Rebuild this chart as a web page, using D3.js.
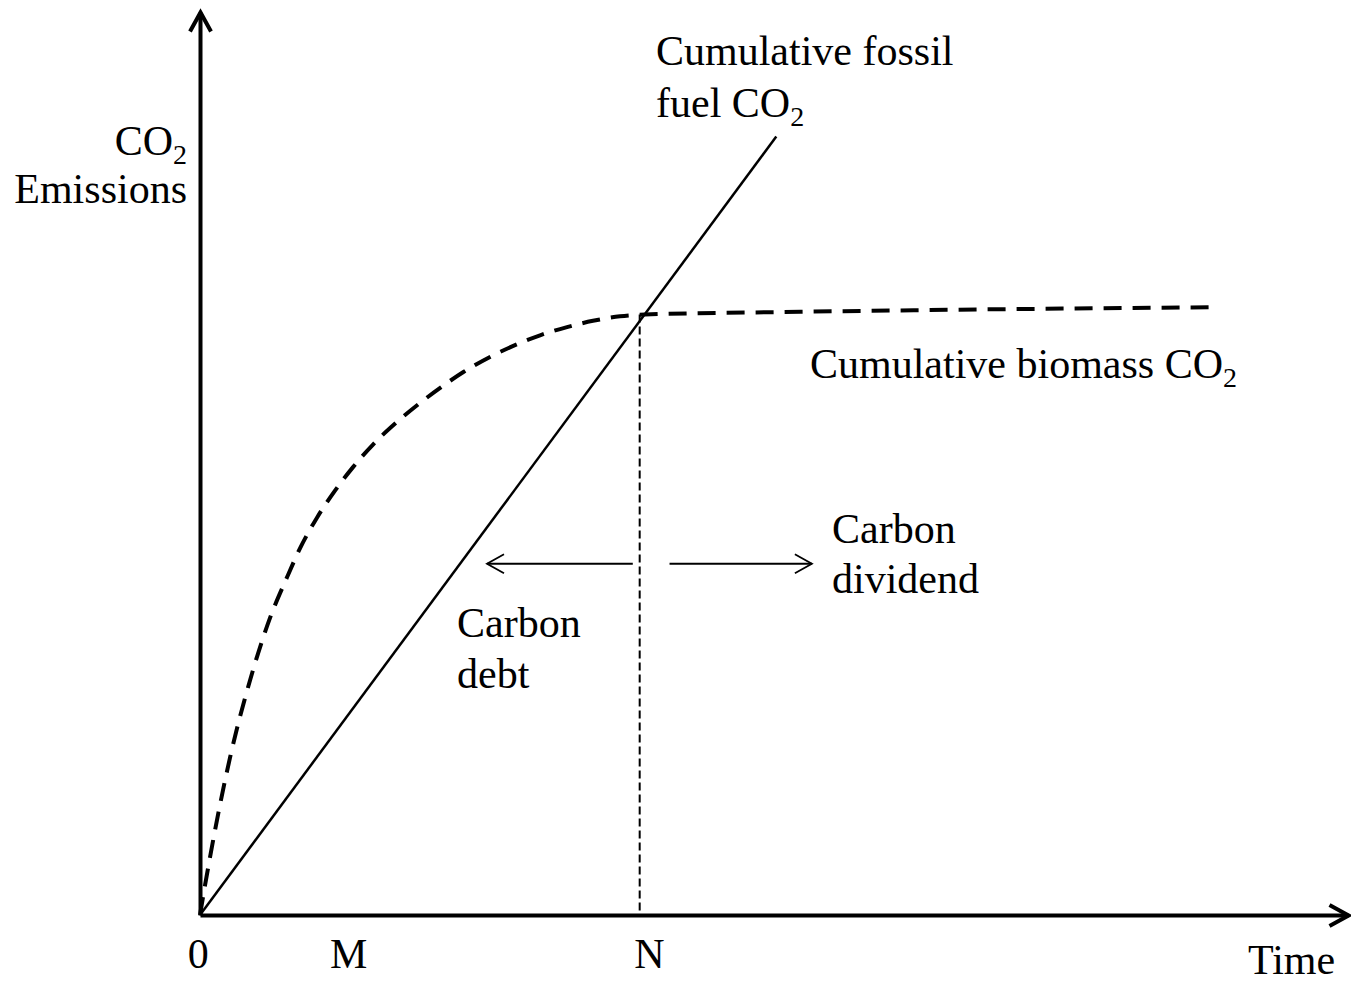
<!DOCTYPE html>
<html>
<head>
<meta charset="utf-8">
<script src="https://cdn.jsdelivr.net/npm/d3@7"></script>
<style>
  body { margin: 0; background: #fff; }
  text { font-family: "Liberation Serif", "Times New Roman", serif; fill: #000; }
</style>
</head>
<body>
<div id="chart"></div>
<script>
// cumulative fossil fuel CO2 (straight line)
var fossilTime = [0, 50.2];
var fossilCO2 = [0, 86.2];

// cumulative biomass CO2 (dashed curve)
var biomassTime = [0, 0.44, 1.31, 2.61, 4.36, 6.10, 7.58, 8.71, 10.19, 11.76, 13.33, 15.07, 17.16, 19.16, 21.17, 22.91, 25.26, 27.61, 29.62, 31.97, 34.23, 36.59, 38.76, 52.3, 88.0];
var biomassCO2  = [0, 3.3, 9.4, 17.4, 26.0, 32.9, 37.4, 40.6, 44.0, 47.0, 49.6, 52.1, 54.6, 56.7, 58.6, 60.1, 61.8, 63.2, 64.2, 65.1, 65.8, 66.3, 66.5, 66.8, 67.3];

// x axis tick labels
var tickLabels = ["0", "M", "N"];
var tickTimes = [-0.2, 12.9, 39.1];

// payback point N and the debt / dividend arrows
var paybackTime = 38.3;
var paybackCO2 = 66.5;
var arrowLevel = 38.9;
var debtArrow = [37.7, 25.0];
var dividendArrow = [40.9, 53.3];

var width = 1351, height = 985;

var svg = d3.select("#chart").append("svg")
    .attr("width", width).attr("height", height);

var x = d3.scaleLinear().domain([0, 100]).range([200, 1348]);
var y = d3.scaleLinear().domain([0, 100]).range([915, 12]);

var defs = svg.append("defs");
function chevron(id, len, half, sw) {
    defs.append("marker")
        .attr("id", id)
        .attr("markerUnits", "userSpaceOnUse")
        .attr("viewBox", (-len - 5) + " " + (-half - 5) + " " + (len + 10) + " " + (2 * half + 10))
        .attr("markerWidth", len + 10).attr("markerHeight", 2 * half + 10)
        .attr("refX", 0).attr("refY", 0)
        .attr("orient", "auto")
        .append("path")
        .attr("d", "M" + (-len) + "," + (-half) + "L0,0L" + (-len) + "," + half)
        .attr("fill", "none").attr("stroke", "#000")
        .attr("stroke-width", sw);
}
chevron("axisHead", 19, 10.5, 4);
chevron("smallHead", 17, 9.5, 1.8);

// axes
var xAxis = svg.append("g").attr("transform", "translate(0," + y(0) + ")")
    .call(d3.axisBottom(x).tickValues(tickTimes)
        .tickFormat(function (d, i) { return tickLabels[i]; })
        .tickSize(0).tickSizeOuter(0).tickPadding(23));
xAxis.select(".domain").attr("stroke-width", 4).attr("marker-end", "url(#axisHead)");
xAxis.selectAll("text").attr("font-size", 42).attr("fill", "#000")
    .style("font-family", '"Liberation Serif", "Times New Roman", serif');

var yAxis = svg.append("g").attr("transform", "translate(" + x(0) + ",0)")
    .call(d3.axisLeft(y).tickValues([]).tickSizeOuter(0));
yAxis.select(".domain").attr("stroke-width", 4).attr("marker-end", "url(#axisHead)");

// lines
var line = d3.line()
    .x(function (d) { return x(d[0]); })
    .y(function (d) { return y(d[1]); });

svg.append("path")
    .datum(d3.zip(fossilTime, fossilCO2))
    .attr("d", line)
    .attr("fill", "none").attr("stroke", "#000").attr("stroke-width", 2.5);

svg.append("path")
    .datum(d3.zip(biomassTime, biomassCO2))
    .attr("d", line.curve(d3.curveMonotoneX))
    .attr("fill", "none").attr("stroke", "#000").attr("stroke-width", 4)
    .attr("stroke-dasharray", "18,11");

svg.append("line")
    .attr("x1", x(paybackTime)).attr("x2", x(paybackTime))
    .attr("y1", y(paybackCO2)).attr("y2", y(0))
    .attr("stroke", "#000").attr("stroke-width", 2)
    .attr("stroke-dasharray", "8,4");

[debtArrow, dividendArrow].forEach(function (a) {
    svg.append("line")
        .attr("x1", x(a[0])).attr("x2", x(a[1]))
        .attr("y1", y(arrowLevel)).attr("y2", y(arrowLevel))
        .attr("stroke", "#000").attr("stroke-width", 1.8)
        .attr("marker-end", "url(#smallHead)");
});

// labels, a part given as [text] is drawn as a subscript
function label(px, py, parts, anchor) {
    var t = svg.append("text").attr("x", px).attr("y", py)
        .attr("font-size", 42).attr("text-anchor", anchor || "start");
    parts.forEach(function (p) {
        if (typeof p === "string") {
            t.append("tspan").text(p);
        } else {
            t.append("tspan").attr("font-size", 28).attr("dy", 9).text(p[0]);
        }
    });
}

label(656, 65, ["Cumulative fossil"]);
label(656, 117, ["fuel CO", ["2"]]);
label(187, 155, ["CO", ["2"]], "end");
label(187, 203, ["Emissions"], "end");
label(810, 378, ["Cumulative biomass CO", ["2"]]);
label(832, 543, ["Carbon"]);
label(832, 593, ["dividend"]);
label(457, 637, ["Carbon"]);
label(457, 688, ["debt"]);
label(1248, 974, ["Time"]);
</script>
</body>
</html>
